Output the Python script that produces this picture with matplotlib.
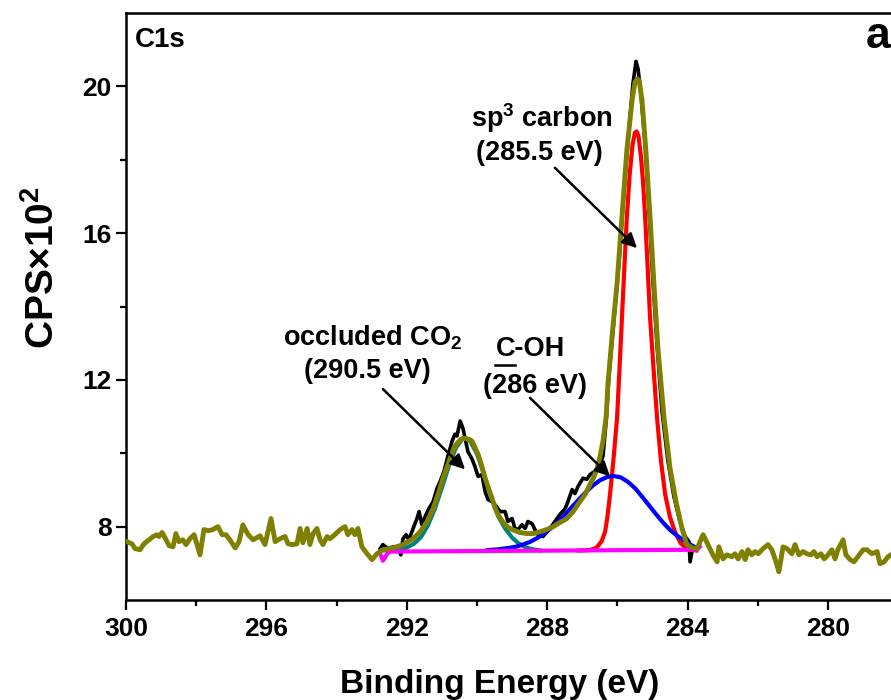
import numpy as np
import matplotlib
matplotlib.use("Agg")
import matplotlib.pyplot as plt

plt.rcParams['font.family'] = ['Liberation Sans', 'DejaVu Sans']
plt.rcParams['font.weight'] = 'bold'
plt.rcParams['mathtext.fontset'] = 'custom'
plt.rcParams['mathtext.rm'] = 'Liberation Sans:bold'
plt.rcParams['mathtext.it'] = 'Liberation Sans:bold'
plt.rcParams['mathtext.bf'] = 'Liberation Sans:bold'

# background signal outside the fit window (olive)
bg_left_e = [299.97, 299.83, 299.74, 299.60, 299.49, 299.37, 299.23, 299.12, 299.06, 298.97,
             298.89, 298.77, 298.66, 298.58, 298.49, 298.38, 298.29, 298.18, 298.06, 297.89,
             297.78, 297.66, 297.52, 297.38, 297.26, 297.15, 297.04, 296.89, 296.78, 296.67,
             296.52, 296.38, 296.18, 296.04, 295.87, 295.75, 295.61, 295.47, 295.38, 295.27,
             295.13, 295.04, 294.96, 294.84, 294.76, 294.67, 294.56, 294.47, 294.39, 294.27,
             294.19, 294.05, 293.90, 293.76, 293.68, 293.56, 293.48, 293.39, 293.28, 293.13,
             292.99, 292.85]
bg_left_v = [7.59, 7.53, 7.40, 7.37, 7.53, 7.62, 7.73, 7.78, 7.73, 7.84,
             7.70, 7.48, 7.45, 7.81, 7.59, 7.64, 7.51, 7.67, 7.78, 7.23,
             7.92, 7.89, 7.92, 8.00, 7.78, 7.78, 7.64, 7.42, 7.59, 8.05,
             7.78, 7.64, 7.75, 7.51, 8.22, 7.59, 7.67, 7.73, 7.53, 7.51,
             7.53, 7.95, 7.56, 7.95, 7.51, 7.81, 7.95, 7.64, 7.51, 7.73,
             7.67, 7.78, 7.92, 8.00, 7.78, 7.92, 7.78, 7.95, 7.45, 7.26,
             7.10, 7.26]

bg_right_e = [283.56, 283.42, 283.28, 283.16, 283.11, 282.99, 282.88, 282.74, 282.65, 282.56,
              282.45, 282.36, 282.28, 282.17, 282.08, 281.99, 281.85, 281.71, 281.60, 281.48,
              281.40, 281.28, 281.17, 281.03, 280.94, 280.83, 280.71, 280.60, 280.49, 280.40,
              280.31, 280.20, 280.11, 280.00, 279.89, 279.80, 279.72, 279.57, 279.49, 279.37,
              279.26, 279.15, 279.00, 278.89, 278.75, 278.60, 278.52, 278.40, 278.29, 278.21,
              277.90]
bg_right_v = [7.78, 7.51, 7.23, 7.04, 7.45, 7.12, 7.23, 7.18, 7.26, 7.12,
              7.32, 7.10, 7.37, 7.23, 7.32, 7.26, 7.40, 7.51, 7.37, 7.04,
              6.77, 7.45, 7.40, 7.26, 7.51, 7.23, 7.32, 7.26, 7.23, 7.32,
              7.18, 7.26, 7.12, 7.23, 7.37, 7.12, 7.37, 7.64, 7.23, 7.10,
              7.04, 7.18, 7.37, 7.37, 7.26, 7.32, 6.99, 7.04, 7.18, 7.23,
              7.40]

# raw spectrum in the fit window (black)
raw_e = [292.76, 292.68, 292.54, 292.39, 292.25, 292.17, 292.11, 292.02, 291.94, 291.82,
         291.71, 291.65, 291.57, 291.48, 291.37, 291.25, 291.14, 291.05, 290.94, 290.83,
         290.71, 290.63, 290.57, 290.48, 290.40, 290.34, 290.26, 290.14, 290.06, 289.97,
         289.86, 289.77, 289.69, 289.57, 289.49, 289.34, 289.20, 289.12, 289.00, 288.92,
         288.83, 288.72, 288.63, 288.55, 288.43, 288.35, 288.26, 288.12, 288.01, 287.92,
         287.78, 287.64, 287.49, 287.41, 287.29, 287.21, 287.12, 286.98, 286.87, 286.78,
         286.64, 286.50, 286.41, 286.32, 286.24, 286.10, 285.95, 285.81, 285.67, 285.56,
         285.47, 285.41, 285.33, 285.21, 285.10, 284.99, 284.87, 284.73, 284.56, 284.39,
         284.22, 284.07, 283.96, 283.93, 283.85]
raw_v = [7.40, 7.51, 7.40, 7.45, 7.40, 7.23, 7.67, 7.78, 7.64, 7.95,
         8.22, 8.41, 8.05, 8.27, 8.49, 8.68, 9.04, 9.23, 9.51, 9.92,
         10.33, 10.52, 10.47, 10.88, 10.68, 10.41, 10.05, 9.84, 9.64, 9.37,
         9.42, 8.96, 8.74, 8.68, 8.60, 8.41, 8.41, 8.14, 8.22, 7.95,
         7.92, 8.05, 7.95, 8.14, 8.08, 7.92, 7.78, 7.73, 7.86, 7.95,
         8.14, 8.33, 8.49, 8.68, 9.01, 8.90, 9.10, 9.32, 9.29, 9.42,
         9.51, 9.70, 9.92, 10.88, 12.11, 13.62, 15.26, 17.18, 18.82, 20.05,
         20.68, 20.47, 19.78, 18.41, 16.63, 14.71, 12.93, 11.15, 9.78, 8.82,
         8.14, 7.73, 7.59, 7.04, 7.45]

# cumulative fit envelope (olive)
env_e = [292.68, 292.39, 292.11, 291.82, 291.62, 291.42, 291.25, 291.11, 290.97, 290.85,
         290.77, 290.66, 290.57, 290.46, 290.34, 290.23, 290.14, 290.06, 289.97, 289.86,
         289.77, 289.66, 289.57, 289.49, 289.40, 289.29, 289.20, 289.06, 288.92, 288.77,
         288.58, 288.40, 288.21, 288.01, 287.83, 287.64, 287.44, 287.26, 287.07, 286.92,
         286.78, 286.67, 286.58, 286.50, 286.41, 286.32, 286.27, 286.15, 286.01, 285.87,
         285.73, 285.58, 285.50, 285.44, 285.38, 285.30, 285.19, 285.07, 284.96, 284.84,
         284.67, 284.50, 284.33, 284.16, 284.02, 283.87, 283.73]
env_v = [7.37, 7.42, 7.51, 7.67, 7.86, 8.14, 8.49, 8.88, 9.32, 9.64,
         9.86, 10.14, 10.27, 10.38, 10.41, 10.38, 10.33, 10.16, 9.97, 9.64,
         9.32, 9.01, 8.77, 8.52, 8.33, 8.16, 8.05, 7.95, 7.89, 7.84,
         7.81, 7.81, 7.86, 7.92, 8.00, 8.11, 8.22, 8.41, 8.68, 8.88,
         9.15, 9.35, 9.59, 9.89, 10.33, 11.00, 11.89, 13.21, 14.63, 16.44,
         18.27, 19.64, 20.11, 20.20, 20.16, 19.64, 18.27, 16.44, 14.63, 12.79,
         10.96, 9.59, 8.68, 7.95, 7.51, 7.42, 7.40]

# occluded CO2 component (teal)
co2_e = [292.70, 292.30, 292.00, 291.80, 291.60, 291.40, 291.20, 291.00, 290.80, 290.60,
         290.40, 290.20, 290.00, 289.80, 289.60, 289.40, 289.20, 289.00, 288.80, 288.60,
         288.40, 288.20]
co2_v = [7.35, 7.36, 7.43, 7.53, 7.71, 8.03, 8.49, 9.06, 9.66, 10.15,
         10.41, 10.34, 9.98, 9.42, 8.82, 8.29, 7.95, 7.70, 7.53, 7.43,
         7.38, 7.35]

# C-OH component (blue)
coh_e = [289.70, 289.40, 289.10, 288.90, 288.70, 288.50, 288.30, 288.10, 287.90, 287.70,
         287.50, 287.30, 287.10, 286.90, 286.70, 286.50, 286.30, 286.10, 285.90, 285.70,
         285.50, 285.30, 285.10, 284.90, 284.70, 284.50, 284.30, 284.10, 283.90, 283.75]
coh_v = [7.36, 7.38, 7.42, 7.45, 7.51, 7.58, 7.68, 7.80, 7.95, 8.12,
         8.32, 8.53, 8.74, 8.94, 9.12, 9.26, 9.35, 9.38, 9.34, 9.22,
         9.05, 8.82, 8.58, 8.34, 8.11, 7.91, 7.75, 7.62, 7.50, 7.42]

# sp3 carbon component (red)
sp3_e = [287.10, 286.80, 286.60, 286.45, 286.35, 286.28, 286.21, 286.11, 286.01, 285.94,
         285.87, 285.80, 285.73, 285.65, 285.57, 285.50, 285.45, 285.40, 285.33, 285.27,
         285.21, 285.14, 285.07, 284.97, 284.87, 284.76, 284.64, 284.50, 284.36, 284.20,
         284.05, 283.90, 283.75]
sp3_v = [7.35, 7.36, 7.42, 7.60, 7.86, 8.30, 8.88, 9.85, 10.96, 12.30,
         13.70, 15.10, 16.44, 17.60, 18.40, 18.74, 18.77, 18.65, 18.10, 17.40,
         16.44, 15.10, 13.70, 12.30, 10.96, 9.80, 8.88, 8.25, 7.86, 7.55,
         7.42, 7.37, 7.35]

# Shirley-type baseline (magenta)
base_e = [292.76, 292.68, 292.56, 292.48, 283.73, 283.65]
base_v = [7.26, 7.07, 7.26, 7.32, 7.37, 7.45]

fig = plt.figure(figsize=(8.91, 7.0), dpi=100)
ax = fig.add_axes([126 / 891, 100 / 700, 24 * 35.1 / 891, 587 / 700])

olive = '#808000'
ax.plot(raw_e, raw_v, color='black', lw=2.6, zorder=2)
ax.plot(co2_e, co2_v, color='#008080', lw=3.0, zorder=3)
ax.plot(sp3_e, sp3_v, color='#ff0000', lw=3.0, zorder=3)
ax.plot(coh_e, coh_v, color='#0000ff', lw=3.0, zorder=4)
ax.plot(base_e, base_v, color='#ff00ff', lw=3.0, zorder=4)
olive_e = np.concatenate([bg_left_e, env_e, bg_right_e])
olive_v = np.concatenate([bg_left_v, env_v, bg_right_v])
ax.plot(olive_e, olive_v, color=olive, lw=3.5, zorder=5)

ax.set_xlim(300, 276)
ax.set_ylim(6, 22)
ax.set_xticks([300, 296, 292, 288, 284, 280])
ax.set_xticks([298, 294, 290, 286, 282, 278], minor=True)
ax.set_yticks([8, 12, 16, 20])
ax.set_yticks([10, 14, 18], minor=True)
ax.tick_params(which='major', length=7.5, width=1.6, labelsize=19, direction='out')
ax.tick_params(which='minor', length=4, width=1.6, direction='out')
ax.tick_params(axis='x', which='major', pad=5)
ax.tick_params(axis='y', which='major', pad=3)
for lab in ax.get_xticklabels() + ax.get_yticklabels():
    lab.set_fontweight('bold')
for sp in ax.spines.values():
    sp.set_linewidth(1.8)

fig.text(500 / 891, 1 - 693 / 700, 'Binding Energy (eV)', ha='center', va='baseline',
         fontsize=24, fontweight='bold')
fig.text(43 / 891, 1 - 268 / 700, r'CPS$\times$10$^2$', ha='center', va='center',
         rotation=90, fontsize=28, fontweight='bold')
fig.text(135 / 891, 1 - 47 / 700, 'C1s', ha='left', va='baseline', fontsize=20, fontweight='bold')
fig.text(866 / 891, 1 - 48 / 700, 'a', ha='left', va='baseline', fontsize=32, fontweight='bold')

fs = 19.5
ax.text(288.15, 18.90, r'sp$^3$ carbon', ha='center', va='baseline', fontsize=fs, fontweight='bold')
ax.text(288.21, 18.00, '(285.5 eV)', ha='center', va='baseline', fontsize=fs, fontweight='bold')
ax.text(292.96, 12.93, r'occluded CO$_2$', ha='center', va='baseline', fontsize=fs, fontweight='bold')
ax.text(293.11, 12.05, '(290.5 eV)', ha='center', va='baseline', fontsize=fs, fontweight='bold')
coh = ax.text(288.49, 12.66, 'C-OH', ha='center', va='baseline', fontsize=fs, fontweight='bold')
ax.text(288.35, 11.64, '(286 eV)', ha='center', va='baseline', fontsize=fs, fontweight='bold')

arrow = dict(arrowstyle='-|>', color='black', lw=1.8, mutation_scale=22, shrinkA=0, shrinkB=0)
ax.annotate('', xy=(285.44, 15.59), xytext=(287.78, 17.78), arrowprops=arrow, zorder=6)
ax.annotate('', xy=(290.34, 9.56), xytext=(292.68, 11.75), arrowprops=arrow, zorder=6)
ax.annotate('', xy=(286.21, 9.37), xytext=(288.49, 11.51), arrowprops=arrow, zorder=6)

# underline the C of C-OH
fig.canvas.draw()
bb = coh.get_window_extent()
cw = bb.width * 0.722 / 2.555
inv = fig.transFigure.inverted()
(x0, y0), (x1, _) = inv.transform([(bb.x0, bb.y0 - 3), (bb.x0 + cw, bb.y0 - 3)])
fig.add_artist(plt.Line2D([x0, x1], [y0, y0], color='black', lw=1.8))

fig.savefig('out.png', dpi=100)
